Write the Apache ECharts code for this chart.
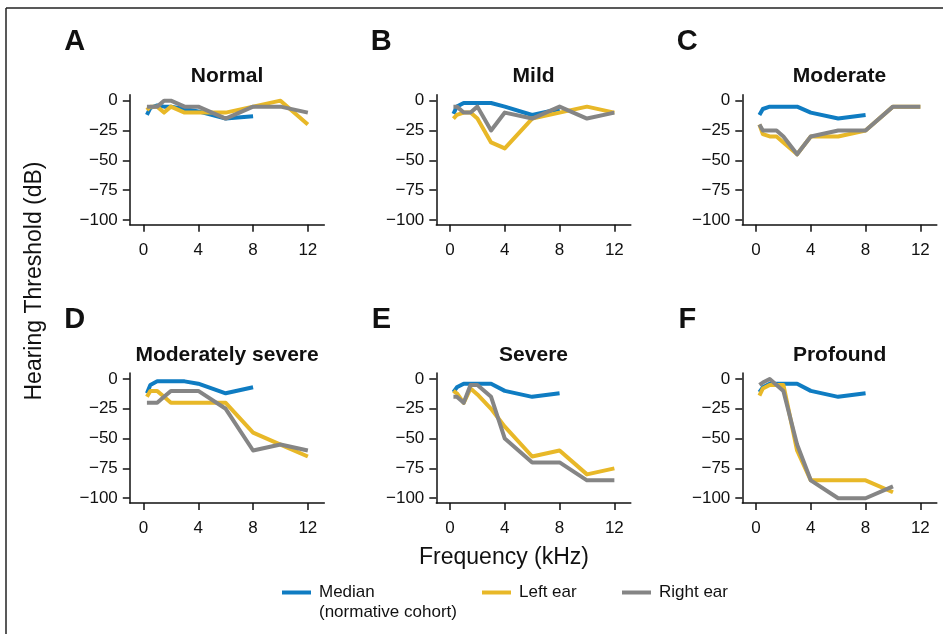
<!DOCTYPE html>
<html>
<head>
<meta charset="utf-8">
<script src="https://cdn.jsdelivr.net/npm/echarts@6/dist/echarts.min.js"></script>
<style>
html,body{margin:0;padding:0;background:#fff;}
#chart{width:943px;height:634px;}
</style>
</head>
<body>
<div id="chart"></div>
<script>
// ---- Data ----
const freqMedian = [0.25, 0.5, 1, 1.5, 2, 3, 4, 6, 8];
const freqEar = [0.25, 0.5, 1, 1.5, 2, 3, 4, 6, 8, 10, 12];
const freqEarProfound = [0.25, 0.5, 1, 1.5, 2, 3, 4, 6, 8, 10];

const panelLetters = ['A', 'B', 'C', 'D', 'E', 'F'];
const panelTitles = ['Normal', 'Mild', 'Moderate', 'Moderately severe', 'Severe', 'Profound'];

const normalMedian = [-12, -6, -4, -5, -5, -7, -9, -15, -13];
const normalLeft   = [-8, -5, -5, -10, -5, -10, -10, -10, -5, 0, -20];
const normalRight  = [-5, -5, -5, 0, 0, -5, -5, -15, -5, -5, -10];

const mildMedian = [-11, -5, -2, -2, -2, -2, -5, -12, -7];
const mildLeft   = [-15, -12, -10, -10, -15, -35, -40, -15, -10, -5, -10];
const mildRight  = [-5, -5, -10, -10, -5, -25, -10, -15, -5, -15, -10];

const moderateMedian = [-12, -7, -5, -5, -5, -5, -10, -15, -12];
const moderateLeft   = [-20, -28, -30, -30, -35, -45, -30, -30, -25, -5, -5];
const moderateRight  = [-20, -25, -25, -25, -30, -45, -30, -25, -25, -5, -5];

const modSevereMedian = [-12, -5, -2, -2, -2, -2, -4, -12, -7];
const modSevereLeft   = [-15, -10, -10, -15, -20, -20, -20, -20, -45, -55, -65];
const modSevereRight  = [-20, -20, -20, -15, -10, -10, -10, -25, -60, -55, -60];

const severeMedian = [-11, -7, -4, -4, -4, -4, -10, -15, -12];
const severeLeft   = [-10, -12, -20, -8, -13, -25, -40, -65, -60, -80, -75];
const severeRight  = [-15, -15, -20, -5, -5, -15, -50, -70, -70, -85, -85];

const profoundMedian = [-11, -7, -4, -4, -4, -4, -10, -15, -12];
const profoundLeft   = [-14, -8, -5, -5, -5, -60, -85, -85, -85, -95];
const profoundRight  = [-5, -3, 0, -5, -10, -55, -85, -100, -100, -90];

const xTicks = [0, 4, 8, 12];
const yTicks = [0, -25, -50, -75, -100];

const seriesNames = ['Median', 'Left ear', 'Right ear'];

// ---- Styling / layout ----
const COLORS = {Median: '#0f7cc2', 'Left ear': '#e8b828', 'Right ear': '#858585'};
const FONT = '"Liberation Sans", Arial, Helvetica, sans-serif';
const colLeft = [129.8, 436.3, 742.3];
const rowTop = [94.7, 373.0];
const gridW = 194.5, gridH = 130;

const panelData = [
  [normalMedian, normalLeft, normalRight, freqEar],
  [mildMedian, mildLeft, mildRight, freqEar],
  [moderateMedian, moderateLeft, moderateRight, freqEar],
  [modSevereMedian, modSevereLeft, modSevereRight, freqEar],
  [severeMedian, severeLeft, severeRight, freqEar],
  [profoundMedian, profoundLeft, profoundRight, freqEarProfound]
];

const pair = (xs, ys) => ys.map((v, i) => [xs[i], v]);
const fmtY = v => (v < 0 ? '\u2212' + (-v) : String(v));

const grids = [], xAxes = [], yAxes = [], series = [], graphics = [];
const axisLineStyle = {color: '#111', width: 1.5};

panelData.forEach((p, i) => {
  const col = i % 3, row = Math.floor(i / 3);
  const left = colLeft[col], top = rowTop[row];
  grids.push({left: left, top: top, width: gridW, height: gridH, containLabel: false, outerBoundsMode: 'none'});
  xAxes.push({
    gridIndex: i, type: 'value', min: -1, max: 13.2,
    axisLine: {show: true, lineStyle: axisLineStyle, onZero: false},
    axisTick: {show: true, customValues: xTicks, length: 7, lineStyle: axisLineStyle},
    axisLabel: {customValues: xTicks, fontSize: 17, color: '#111', fontFamily: FONT, margin: 17},
    splitLine: {show: false}
  });
  yAxes.push({
    gridIndex: i, type: 'value', min: -104, max: 5,
    axisLine: {show: true, lineStyle: axisLineStyle, onZero: false},
    axisTick: {show: true, customValues: yTicks, length: 7, lineStyle: axisLineStyle},
    axisLabel: {customValues: yTicks, fontSize: 17, color: '#111', fontFamily: FONT, margin: 12, formatter: fmtY},
    splitLine: {show: false}
  });
  const [med, lft, rgt, ef] = p;
  const sets = [[seriesNames[0], pair(freqMedian, med)], [seriesNames[1], pair(ef, lft)], [seriesNames[2], pair(ef, rgt)]];
  sets.forEach(([name, data]) => {
    series.push({
      name: name, type: 'line', xAxisIndex: i, yAxisIndex: i, data: data,
      showSymbol: false, symbol: 'none', smooth: false, animation: false,
      lineStyle: {color: COLORS[name], width: 4, join: 'round'},
      itemStyle: {color: COLORS[name]}
    });
  });
  graphics.push({
    type: 'text', x: left + gridW / 2, y: top - 18,
    style: {text: panelTitles[i], font: 'bold 21px ' + FONT, fill: '#111', textAlign: 'center', textVerticalAlign: 'middle'}
  });
  graphics.push({
    type: 'text', x: left - 55, y: top - 53,
    style: {text: panelLetters[i], font: 'bold 29px ' + FONT, fill: '#111', textAlign: 'center', textVerticalAlign: 'middle'}
  });
});

// axis titles
graphics.push({
  type: 'text', x: 35, y: 281, rotation: Math.PI / 2,
  style: {text: 'Hearing Threshold (dB)', font: '23px ' + FONT, fill: '#111', textAlign: 'center', textVerticalAlign: 'middle'}
});
graphics.push({
  type: 'text', x: 504, y: 558,
  style: {text: 'Frequency (kHz)', font: '23px ' + FONT, fill: '#111', textAlign: 'center', textVerticalAlign: 'middle'}
});
// second line of median legend
graphics.push({
  type: 'text', x: 319, y: 612,
  style: {text: '(normative cohort)', font: '17px ' + FONT, fill: '#111', textAlign: 'left', textVerticalAlign: 'middle'}
});
// outer frame (top and left edges visible)
graphics.push({type: 'line', shape: {x1: 6, y1: 8, x2: 943, y2: 8}, style: {stroke: '#222', lineWidth: 1.5}});
graphics.push({type: 'line', shape: {x1: 6, y1: 8, x2: 6, y2: 634}, style: {stroke: '#222', lineWidth: 1.5}});

const legendPos = [282, 482, 622];
const legends = seriesNames.map((n, k) => ({
  data: [n], left: legendPos[k], top: 584, orient: 'horizontal', padding: 0,
  icon: 'rect', itemWidth: 29, itemHeight: 4,
  textStyle: {fontSize: 17, color: '#111', fontFamily: FONT, padding: [0, 0, 0, 3]},
  selectedMode: false
}));

const chart = echarts.init(document.getElementById('chart'), null, {renderer: 'canvas'});
chart.setOption({
  animation: false,
  backgroundColor: '#fff',
  grid: grids, xAxis: xAxes, yAxis: yAxes, series: series,
  legend: legends,
  graphic: graphics
});
</script>
</body>
</html>
